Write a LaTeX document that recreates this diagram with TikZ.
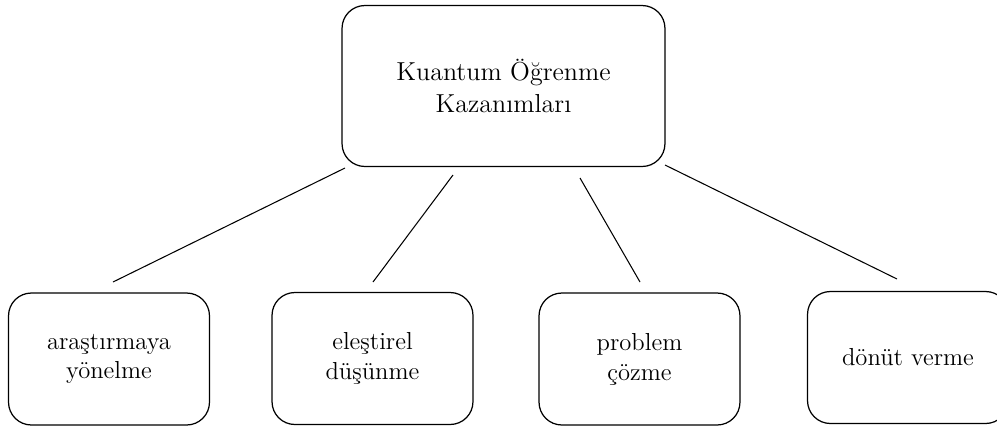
\documentclass[tikz,border=0pt]{standalone}
\usepackage{tikz}
\usetikzlibrary{positioning}
\tikzset{
	kutu/.style={draw,rounded corners=13pt,align=center,line width=0.7pt},
	ustkutu/.style={kutu,minimum width=6.46cm,minimum height=3.22cm,font=\fontsize{14.8}{18}\selectfont},
	altkutu/.style={kutu,minimum width=4.02cm,minimum height=2.64cm,font=\fontsize{14}{17}\selectfont},
	bag/.style={line width=0.6pt}
}

\begin{document}
\begin{tikzpicture}[x=0.02cm,y=-0.02cm]
				\useasboundingbox (0,0) rectangle (997,427);
				\node[ustkutu] (kazanim) at (503.5,86) {Kuantum Öğrenme\\Kazanımları};
				\node[altkutu] (arastirma) at (109,359) {araştırmaya\\yönelme};
				\node[altkutu] (elestirel) at (372.5,358.5) {eleştirel\\düşünme};
				\node[altkutu] (problem) at (639.5,359) {problem\\çözme};
				\node[altkutu] (donut) at (908,357.5) {dönüt verme};
				\coordinate (u1) at (345,168);
				\coordinate (u2) at (453,175);
				\coordinate (u3) at (580,178);
				\coordinate (u4) at (665,165);
				\coordinate (a1) at (113,282);
				\coordinate (a2) at (373,282);
				\coordinate (a3) at (640,282);
				\coordinate (a4) at (897,279);
				\draw[bag] (u1) -- (a1) (u2) -- (a2) (u3) -- (a3) (u4) -- (a4);
			\end{tikzpicture}
\end{document}
